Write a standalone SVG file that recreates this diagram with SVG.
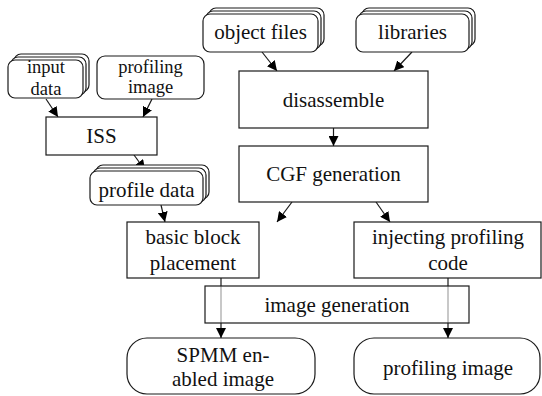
<svg xmlns="http://www.w3.org/2000/svg" width="542" height="396" viewBox="0 0 542 396">
<style>
.b{fill:#fff;stroke:#1a1a1a;stroke-width:1.2}
text{font-family:'Liberation Serif','DejaVu Serif',serif;font-size:21px;fill:#111;text-anchor:middle}
.s{font-size:18.5px}
.c{stroke:#1a1a1a;stroke-width:1.2;fill:none}
</style>
<defs>
<marker id="a" viewBox="0 0 10 10" refX="10" refY="5" markerWidth="10" markerHeight="10" markerUnits="userSpaceOnUse" orient="auto">
<path d="M0,0 L10,5 L0,10 z" fill="#000"/>
</marker>
</defs>
<rect width="542" height="396" fill="#fff"/>
<g id="connectors">
<line class="c" x1="46" y1="99" x2="58" y2="117" marker-end="url(#a)"/>
<line class="c" x1="152" y1="99" x2="143" y2="117" marker-end="url(#a)"/>
<line class="c" x1="134" y1="155" x2="145" y2="170" marker-end="url(#a)"/>
<line class="c" x1="161" y1="205" x2="165" y2="222" marker-end="url(#a)"/>
<line class="c" x1="262" y1="52" x2="277" y2="71" marker-end="url(#a)"/>
<line class="c" x1="412" y1="52" x2="394" y2="71" marker-end="url(#a)"/>
<line class="c" x1="333.5" y1="128" x2="333.5" y2="146" marker-end="url(#a)"/>
<line class="c" x1="292" y1="202" x2="277" y2="222" marker-end="url(#a)"/>
<line class="c" x1="376" y1="202" x2="390" y2="222" marker-end="url(#a)"/>
<line class="c" x1="221" y1="278" x2="221" y2="338" marker-end="url(#a)"/>
<line class="c" x1="448" y1="278" x2="448" y2="338" marker-end="url(#a)"/>
</g>
<g font-family="Liberation Serif, DejaVu Serif, serif">
<g id="input-data">
<rect class="b" x="14" y="54" width="75" height="38" rx="7"/>
<rect class="b" x="11" y="57" width="75" height="38" rx="7"/>
<rect class="b" x="8" y="60" width="75" height="38" rx="7"/>
<text class="s" x="46" y="73">input</text>
<text class="s" x="46" y="95">data</text>
</g>
<g id="profiling-image-in">
<rect class="b" x="97" y="56" width="107" height="43" rx="8"/>
<text class="s" x="150.5" y="73">profiling</text>
<text class="s" x="150.5" y="93">image</text>
</g>
<g id="iss">
<rect class="b" x="46" y="117" width="111" height="38"/>
<text x="101.5" y="143">ISS</text>
</g>
<g id="profile-data">
<rect class="b" x="96" y="165" width="113" height="34" rx="7"/>
<rect class="b" x="93" y="168" width="113" height="34" rx="7"/>
<rect class="b" x="90" y="171" width="113" height="34" rx="7"/>
<text x="146.5" y="197">profile data</text>
</g>
<g id="object-files">
<rect class="b" x="209" y="8" width="115" height="38" rx="7"/>
<rect class="b" x="206" y="11" width="115" height="38" rx="7"/>
<rect class="b" x="203" y="14" width="115" height="38" rx="7"/>
<text x="260.5" y="39">object files</text>
</g>
<g id="libraries">
<rect class="b" x="362" y="8" width="113" height="38" rx="7"/>
<rect class="b" x="359" y="11" width="113" height="38" rx="7"/>
<rect class="b" x="356" y="14" width="113" height="38" rx="7"/>
<text x="412.5" y="39">libraries</text>
</g>
<g id="disassemble">
<rect class="b" x="239" y="71" width="189" height="57"/>
<text x="333.5" y="107">disassemble</text>
</g>
<g id="cgf-generation">
<rect class="b" x="239" y="146" width="189" height="56"/>
<text x="333.5" y="181">CGF generation</text>
</g>
<g id="basic-block-placement">
<rect class="b" x="127" y="222" width="132" height="56"/>
<text x="193" y="244">basic block</text>
<text x="193" y="270">placement</text>
</g>
<g id="injecting-profiling-code">
<rect class="b" x="354" y="222" width="187" height="56"/>
<text x="448" y="244">injecting profiling</text>
<text x="448" y="270">code</text>
</g>
<g id="image-generation">
<rect class="b" x="205" y="286" width="264" height="37" fill-opacity="0.6"/>
<text x="337" y="312">image generation</text>
</g>
<g id="spmm-enabled-image">
<rect class="b" x="127" y="338" width="188" height="56" rx="20"/>
<text x="223" y="362">SPMM en-</text>
<text x="223" y="386">abled image</text>
</g>
<g id="profiling-image-out">
<rect class="b" x="354" y="338" width="186" height="56" rx="20"/>
<text x="448" y="375">profiling image</text>
</g>
</g>
</svg>
